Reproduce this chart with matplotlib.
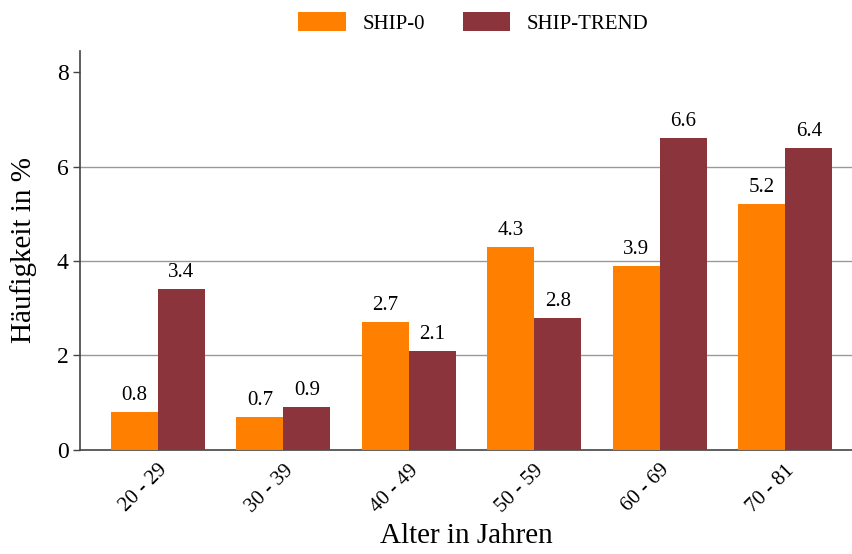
import matplotlib.pyplot as plt
import numpy as np

## Daten
altersgruppen = ['20 - 29', '30 - 39', '40 - 49', '50 - 59', '60 - 69', '70 - 81']
ship0 = [0.8, 0.7, 2.7, 4.3, 3.9, 5.2]
ship_trend = [3.4, 0.9, 2.1, 2.8, 6.6, 6.4]

plt.rcParams['font.family'] = ['Liberation Serif', 'DejaVu Serif']

fig = plt.figure(figsize=(8.53, 5.54), dpi=100)
ax = fig.add_axes([0.094, 0.188, 0.906, 0.72])

x = np.arange(len(altersgruppen))
w = 0.375
b1 = ax.bar(x - w/2, ship0, w, color='#FF8000', label='SHIP-0', zorder=3)
b2 = ax.bar(x + w/2, ship_trend, w, color='#8B343C', label='SHIP-TREND', zorder=3)

for bars in (b1, b2):
  for rect in bars:
    h = rect.get_height()
    ax.annotate('%.1f' % h, (rect.get_x() + rect.get_width()/2, h),
                xytext=(0, 5), textcoords='offset points',
                ha='center', va='bottom', fontsize=15)

ax.set_xlim(-0.62, 5.54)
ax.set_ylim(0, 8.45)
ax.set_yticks([0, 2, 4, 6, 8])
ax.yaxis.grid(True, color='#999999', linewidth=1, zorder=0)
ax.get_ygridlines()[-1].set_visible(False)
ax.get_ygridlines()[0].set_visible(False)

ax.set_xticks(x)
ax.set_xticklabels(altersgruppen, rotation=45, ha='right', rotation_mode='anchor', fontsize=15)
ax.tick_params(axis='x', length=0, pad=8)
ax.tick_params(axis='y', labelsize=17, length=5, width=1, color='#444444')

for s in ('top', 'right'):
  ax.spines[s].set_visible(False)
ax.spines['left'].set_color('#444444')
ax.spines['bottom'].set_color('#444444')
ax.spines['left'].set_linewidth(1.2)
ax.spines['bottom'].set_linewidth(1.2)

ax.set_ylabel('Häufigkeit in %', fontsize=21, labelpad=14)
ax.set_xlabel('Alter in Jahren', fontsize=21, labelpad=5)

fig.legend(loc='upper center', bbox_to_anchor=(0.555, 1.012), ncol=2, frameon=False,
           fontsize=15, handlelength=2.3, handleheight=1.0, columnspacing=1.8)

fig.savefig('out.png', dpi=100)
